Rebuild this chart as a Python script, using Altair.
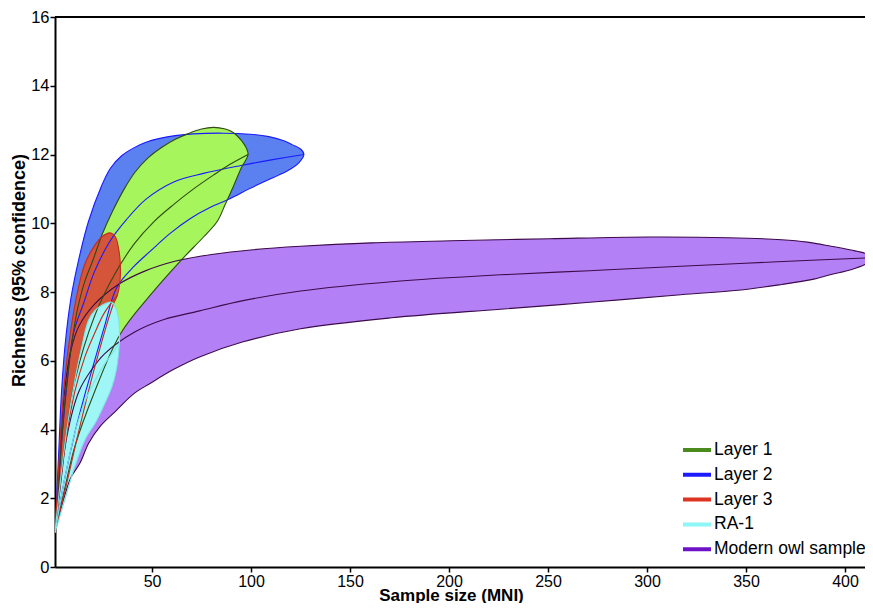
import altair as alt
import pandas as pd

# ---------------- data ----------------
SERIES = ["Layer 1", "Layer 2", "Layer 3", "RA-1", "Modern owl sample"]
LEGEND_COLORS = ["#4b8a1d", "#1c1cff", "#dd3322", "#8ef6f6", "#6e12c8"]
FILL_COLORS = ["#a6f55c", "#5b80f0", "#d4553a", "#9ef6f6", "#b480f5"]
LINE_COLORS = ["#2f4a14", "#1a1aff", "#c42a1a", "#7de6e6", "#3d0a4a"]
DRAW_ORDER = ["Layer 2", "Modern owl sample", "Layer 1", "Layer 3", "RA-1"]

X_TICKS = [50, 100, 150, 200, 250, 300, 350, 400]
Y_TICKS = [0, 2, 4, 6, 8, 10, 12, 14, 16]

# Layer 1 (green)
L1_UPPER = [(1, 1), (4, 3.4), (6, 4.8), (9, 6.3), (12, 7.4), (16, 8.3), (20, 8.9),
            (25, 9.7), (30, 10.34), (36, 11.0), (41.5, 11.49), (48, 11.9), (55, 12.21),
            (62, 12.45), (68, 12.6), (75, 12.74), (81, 12.79), (87, 12.74), (91, 12.64),
            (95, 12.42), (97.5, 12.2), (98.5, 12.0)]
L1_MEAN = [(1, 1), (6, 3.6), (11, 5.4), (21, 7.3), (31, 8.5), (41, 9.4), (51, 10.05),
           (61, 10.55), (71, 11.0), (81, 11.4), (89, 11.7), (98.5, 12.0)]
L1_LOWER = [(1, 1), (6, 2.3), (11, 3.5), (21, 5.1), (34, 6.78), (49, 7.9), (64.3, 8.9),
            (76, 9.6), (82.9, 10.05), (87, 10.55), (91.3, 11.1), (95, 11.6), (98.5, 12.0)]

# Layer 2 (blue)
L2_UPPER = [(1, 1), (3, 3.5), (4, 4.8), (6, 6.4), (9, 7.8), (12.8, 8.9), (17.9, 10.05),
            (24.6, 11.1), (29, 11.6), (34.8, 11.97), (41, 12.2), (46.6, 12.35), (54, 12.47),
            (61.8, 12.55), (71, 12.6), (86, 12.62), (99.7, 12.59), (109, 12.52),
            (116.6, 12.4), (121, 12.28), (125, 12.16), (126.7, 12.0)]
L2_MEAN = [(1, 1), (4, 3.4), (7, 5.3), (10.3, 6.8), (15.3, 7.65), (21, 8.6), (29, 9.5),
           (37, 10.1), (47, 10.7), (61, 11.2), (76, 11.45), (95, 11.68), (111, 11.85),
           (126.7, 12.0)]
L2_LOWER = [(1, 1), (6, 2.6), (11, 3.9), (16, 5.0), (21, 6.0), (26, 7.0), (32.2, 8.13),
            (41, 8.75), (49, 9.18), (59, 9.7), (69.4, 10.14), (79, 10.45), (89.6, 10.72),
            (99, 11.0), (108.2, 11.25), (114, 11.4), (120, 11.58), (124, 11.75), (126.7, 12.0)]

# Layer 3 (red)
L3_UPPER = [(1, 1), (4, 4.0), (6, 5.5), (9, 6.9), (12, 7.9), (16, 8.8), (21, 9.35),
            (25, 9.62), (28.8, 9.72), (31.5, 9.6), (33, 9.3), (34, 8.8), (33.8, 8.3),
            (32.5, 7.9)]
L3_MEAN = [(1, 1), (6, 3.5), (11, 5.1), (16, 6.1), (21, 6.8), (26, 7.4), (32.5, 7.9)]
L3_LOWER = [(1, 1), (6, 2.2), (12.8, 3.9), (21, 5.8), (30.5, 7.65), (32.5, 7.9)]

# RA-1 (cyan)
RA_UPPER = [(1, 1), (4.4, 2.84), (7.7, 4.29), (11.1, 5.45), (14.5, 6.4), (17.9, 7.17),
            (21, 7.45), (25, 7.62), (29.7, 7.7), (32, 7.5), (33.3, 7.1), (33.6, 6.7),
            (33.5, 6.5)]
RA_MEAN = [(1, 1), (6, 2.6), (11, 3.9), (16, 4.8), (21, 5.4), (26, 5.9), (33.5, 6.5)]
RA_LOWER = [(1, 1), (6.1, 1.98), (11.1, 2.94), (16.2, 3.71), (21.3, 4.19), (24.6, 4.57),
            (29.7, 5.24), (32, 5.75), (33.5, 6.5)]

# Modern owl sample (purple)
MO_UPPER = [(1, 1), (3, 2.6), (4, 3.8), (6, 5.2), (9, 6.3), (13, 7.0), (21, 7.65),
            (33, 8.22), (46, 8.6), (62, 8.9), (81, 9.1), (101, 9.23), (125, 9.33),
            (161, 9.43), (201, 9.49), (251, 9.55), (301, 9.6), (341, 9.58), (368, 9.52),
            (381, 9.45), (393, 9.33), (403, 9.22), (410, 9.13), (415, 9.0)]
MO_MEAN = [(1, 1), (4, 2.5), (7, 3.8), (13, 5.1), (19, 5.7), (26, 6.2), (41, 6.83),
           (56, 7.2), (74, 7.45), (96, 7.75), (125, 8.03), (171, 8.3), (226, 8.5),
           (271, 8.62), (317, 8.75), (366, 8.88), (415, 9.0)]
MO_LOWER = [(1, 1), (3.5, 1.6), (6, 2.1), (9, 2.6), (13.7, 3.03), (18, 3.6), (23.8, 4.09),
            (31, 4.5), (41, 5.05), (49, 5.34), (61, 5.75), (74, 6.11), (96, 6.55),
            (125, 6.93), (171, 7.25), (226, 7.5), (271, 7.7), (317, 7.92), (346, 8.05),
            (368, 8.22), (383, 8.36), (393, 8.51), (403, 8.65), (410, 8.8), (415, 9.0)]

CURVES = {
    "Layer 1": (L1_UPPER, L1_MEAN, L1_LOWER),
    "Layer 2": (L2_UPPER, L2_MEAN, L2_LOWER),
    "Layer 3": (L3_UPPER, L3_MEAN, L3_LOWER),
    "RA-1": (RA_UPPER, RA_MEAN, RA_LOWER),
    "Modern owl sample": (MO_UPPER, MO_MEAN, MO_LOWER),
}

# ---------------- tables ----------------
outline_rows, mean_rows = [], []
for name, (upper, mean, lower) in CURVES.items():
    pts = list(upper) + list(reversed(lower))[1:]
    for i, (x, y) in enumerate(pts):
        outline_rows.append({"series": name, "i": i, "x": x, "y": y})
    for i, (x, y) in enumerate(mean):
        mean_rows.append({"series": name, "i": i, "x": x, "y": y})
outline_df = pd.DataFrame(outline_rows)
mean_df = pd.DataFrame(mean_rows)
legend_df = pd.DataFrame({"series": SERIES, "x": [1] * 5, "y": [1] * 5})

FONT = "Liberation Sans"

xs = alt.Scale(domain=[1, 410.1], nice=False, zero=False)
ys = alt.Scale(domain=[0, 16], nice=False)
x_axis = alt.Axis(values=X_TICKS, title="Sample size (MNI)", grid=False,
                  labelFontSize=16, labelFont=FONT, labelColor="black", labelPadding=1,
                  domainColor="black", domainWidth=2, tickColor="black", tickWidth=1.5,
                  tickSize=5, titleFont=FONT, titleFontSize=17, titleFontWeight="bold",
                  titleColor="black", titleX=396, titleY=33, titleAlign="center",
                  titleBaseline="alphabetic", labelFlush=False)
y_axis = alt.Axis(values=Y_TICKS, title="Richness (95% confidence)", grid=False,
                  labelFontSize=16.5, labelFont=FONT, labelColor="black", labelPadding=1,
                  domainColor="black", domainWidth=2, tickColor="black", tickWidth=1.5,
                  tickSize=5, titleFont=FONT, titleFontSize=18, titleFontWeight="bold",
                  titleColor="black", titleX=-36, titleY=253, titleAlign="center",
                  titleBaseline="middle", titleAngle=270, labelFlush=False)

X = alt.X("x:Q", scale=xs, axis=x_axis)
Y = alt.Y("y:Q", scale=ys, axis=y_axis)

layers = []
# fills
for name in DRAW_ORDER:
    k = SERIES.index(name)
    layers.append(
        alt.Chart(outline_df[outline_df.series == name]).mark_line(
            fill=FILL_COLORS[k], strokeOpacity=0, interpolate="catmull-rom", clip=True
        ).encode(x=X, y=Y, order="i:Q")
    )
# outlines and mean lines
for name in DRAW_ORDER:
    k = SERIES.index(name)
    layers.append(
        alt.Chart(outline_df[outline_df.series == name]).mark_line(
            stroke=LINE_COLORS[k], strokeWidth=1.1, interpolate="catmull-rom", clip=True
        ).encode(x=X, y=Y, order="i:Q")
    )
    layers.append(
        alt.Chart(mean_df[mean_df.series == name]).mark_line(
            stroke=LINE_COLORS[k], strokeWidth=1.1, interpolate="catmull-rom", clip=True
        ).encode(x=X, y=Y, order="i:Q")
    )

# legend (single-point lines draw nothing; they only feed the legend)
layers.append(
    alt.Chart(legend_df).mark_line(strokeWidth=4).encode(
        x=X, y=Y,
        color=alt.Color("series:N", scale=alt.Scale(domain=SERIES, range=LEGEND_COLORS),
                        legend=alt.Legend(title=None, orient="none", legendX=626, legendY=423,
                                          symbolType="stroke", symbolStrokeWidth=4,
                                          symbolSize=784, labelFontSize=17.5, labelFont=FONT,
                                          labelColor="black", labelOffset=1, clipHeight=20,
                                          rowPadding=4.8, padding=0, labelLimit=300)),
    )
)

# top frame line
layers.append(alt.Chart(legend_df).mark_rule(color="black", strokeWidth=2).encode(y=alt.datum(16)))

chart = alt.layer(*layers).properties(
    width=810, height=550,
    autosize=alt.AutoSizeParams(type="none"),
    padding={"left": 47, "top": 9, "right": 0, "bottom": 36},
    background="white",
).configure_view(stroke=None)

chart.save("out.html", embed_options={"renderer": "svg", "actions": False})
